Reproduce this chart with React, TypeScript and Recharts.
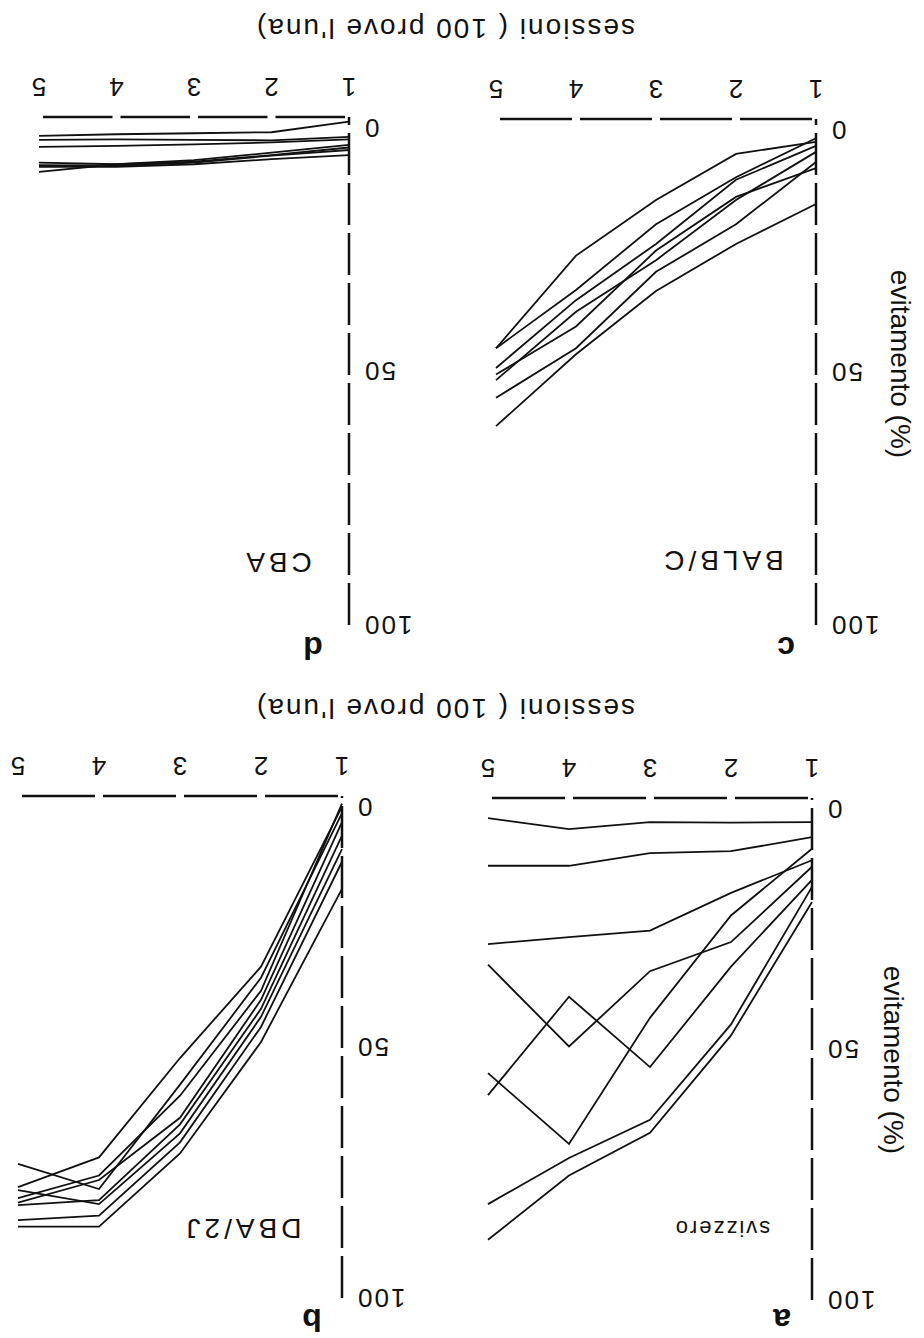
import { LineChart, Line, XAxis, YAxis } from 'recharts';

// sessioni (100 prove l'una)
const sessions = [1, 2, 3, 4, 5];
const yTicks = [0, 50, 100];

// evitamento (%) per animale, sessioni 1..5
const svizzero = [
    [4.8, 4.9, 4.8, 6.2, 4.0],
    [7.8, 10.6, 11.0, 13.5, 13.5],
    [12.4, 18.9, 26.4, 27.7, 29.1],
    [13.7, 28.7, 34.5, 49.5, 33.2],
    [16.3, 33.6, 53.6, 39.6, 59.2],
    [10.1, 23.4, 43.8, 68.9, 54.8],
    [17.7, 45.1, 64.1, 71.7, 80.9],
    [20.7, 47.3, 66.7, 75.2, 88.0],
];

const dba2j = [
    [2.1, 34.0, 52.2, 72.0, 77.9],
    [3.4, 36.2, 57.5, 78.3, 73.3],
    [1.5, 38.8, 59.7, 75.6, 80.1],
    [5.2, 40.6, 64.1, 76.5, 81.0],
    [7.9, 42.4, 65.4, 80.5, 81.5],
    [10.6, 44.0, 67.2, 81.3, 78.5],
    [13.1, 46.0, 69.0, 83.6, 84.5],
    [18.5, 49.0, 71.2, 85.8, 85.8],
];

const balbc = [
    [4.5, 6.9, 16.0, 27.0, 45.3],
    [3.8, 11.5, 20.8, 33.8, 45.3],
    [5.3, 12.0, 24.7, 35.8, 49.2],
    [6.5, 16.0, 27.9, 38.1, 51.6],
    [9.7, 15.4, 26.0, 41.0, 50.5],
    [8.5, 20.8, 30.2, 45.3, 55.1],
    [16.8, 24.7, 34.0, 46.5, 60.7],
];

const cba = [
    [0.9, 3.0, 3.2, 3.4, 3.7],
    [3.9, 4.6, 4.5, 4.4, 4.5],
    [4.4, 5.0, 5.4, 5.7, 5.9],
    [5.5, 7.0, 8.5, 9.3, 9.0],
    [6.5, 7.6, 9.0, 9.6, 9.5],
    [7.5, 8.3, 9.3, 9.8, 9.8],
    [6.0, 7.5, 8.8, 9.3, 10.8],
];

const FONT = '"Liberation Sans", Arial, Helvetica, sans-serif';
const INK = '#111';
const YW = 80;
const XH = 60;
const MT = 24;
const MR = 10;

const XTick = ({ x, y, payload }: any) => (
    <text x={x} y={y + 30} textAnchor="middle" dominantBaseline="central"
        fontSize={26} fontFamily={FONT} fill={INK}>
        {payload.value}
    </text>
);

const YTick = ({ x, y, payload }: any) => (
    <text x={x - 14} y={payload.value === 0 ? y - 11 : y} textAnchor="end" dominantBaseline="central"
        fontSize={26} fontFamily={FONT} fill={INK} letterSpacing={2}>
        {payload.value}
    </text>
);

interface PanelProps {
    series: number[][];
    u1: number; // pixel of session 1
    u5: number; // pixel of session 5
    vTop: number; // pixel of 100%
    vBot: number; // pixel of 0%
}

function Panel({ series, u1, u5, vTop, vBot }: PanelProps) {
    const rows = sessions.map((s, i) => {
        const row: Record<string, number> = { s };
        series.forEach((vals, k) => { row['m' + k] = vals[i]; });
        return row;
    });
    const spacing = (u5 - u1) / 4;
    const width = YW + (u5 - u1) + MR;
    const height = MT + (vBot - vTop) + XH;

    return (
        <div style={{ position: 'absolute', left: u1 - YW, top: vTop - MT }}>
            <LineChart width={width} height={height} data={rows}
                margin={{ top: MT, right: MR, left: 0, bottom: 0 }}>
                <XAxis dataKey="s" type="number" domain={[1, 5]} ticks={sessions} interval={0}
                    height={XH} tickLine={false} tickSize={0} tickMargin={0} tick={<XTick />}
                    axisLine={{ stroke: INK, strokeWidth: 2.5, strokeDasharray: `${spacing - 8} 8`, strokeDashoffset: -4 }} />
                <YAxis type="number" domain={[0, 100]} ticks={yTicks} interval={0}
                    width={YW} tickLine={false} tickSize={0} tickMargin={0} tick={<YTick />}
                    axisLine={{ stroke: INK, strokeWidth: 2.5, strokeDasharray: '42 8' }} />
                {series.map((_, k) => (
                    <Line key={k} type="linear" dataKey={'m' + k} stroke={INK} strokeWidth={1.8}
                        dot={false} activeDot={false} isAnimationActive={false} />
                ))}
            </LineChart>
        </div>
    );
}

const Label = ({ u, v, size = 28, spacing = 0, bold = false, vertical = false, children }: any) => (
    <div style={{
        position: 'absolute', left: u, top: v,
        transform: `translate(-50%, -50%)${vertical ? ' rotate(-90deg)' : ''}`,
        whiteSpace: 'nowrap', fontFamily: FONT, fontSize: size, letterSpacing: spacing,
        fontWeight: bold ? 700 : 400, color: INK, lineHeight: 1,
    }}>
        {children}
    </div>
);

export default function App() {
    // The printed figure is reproduced upside down, as in the scan.
    return (
        <div style={{
            position: 'absolute', left: 0, top: 0, width: 924, height: 1338,
            background: '#fff', transform: 'rotate(180deg)', overflow: 'hidden',
        }}>
            <Panel series={svizzero} u1={112} u5={436} vTop={38} vBot={540} />
            <Panel series={dba2j} u1={582} u5={906} vTop={40} vBot={542} />
            <Panel series={balbc} u1={108} u5={428} vTop={713} vBot={1219} />
            <Panel series={cba} u1={575} u5={885} vTop={713} vBot={1221} />

            <Label u={31} v={278} vertical>evitamento (%)</Label>
            <Label u={24} v={974} vertical>evitamento (%)</Label>
            <Label u={479} v={630} spacing={2}>sessioni ( 100 prove l'una)</Label>
            <Label u={479} v={1310} spacing={2}>sessioni ( 100 prove l'una)</Label>

            <Label u={142} v={18} size={32} bold>a</Label>
            <Label u={612} v={18} size={32} bold>b</Label>
            <Label u={138} v={690} size={32} bold>c</Label>
            <Label u={611} v={690} size={32} bold>d</Label>

            <Label u={202} v={110} size={22} spacing={2}>svizzero</Label>
            <Label u={682} v={110} size={28} spacing={4}>DBA/2J</Label>
            <Label u={202} v={778} size={28} spacing={4}>BALB/C</Label>
            <Label u={647} v={776} size={28} spacing={4}>CBA</Label>
        </div>
    );
}
